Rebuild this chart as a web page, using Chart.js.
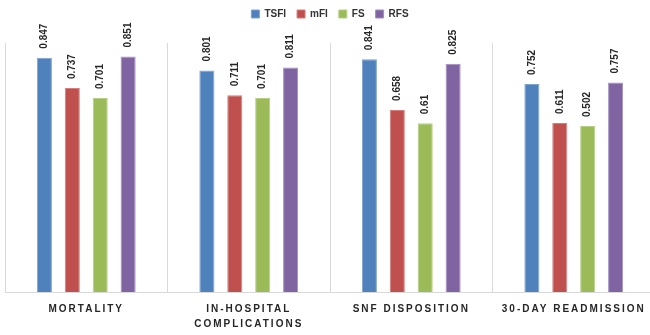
<!DOCTYPE html>
<html>
<head>
<meta charset="utf-8">
<script src="https://cdn.jsdelivr.net/npm/chart.js@4.4.1/dist/chart.umd.min.js"></script>
<style>
  html, body { margin: 0; padding: 0; background: #ffffff; overflow: hidden; }
  #wrap { width: 660px; height: 335px; position: relative; }
</style>
</head>
<body>
<div id="wrap"><canvas id="c" width="660" height="335"></canvas></div>
<script>
// ---- data ----
const categories = ['MORTALITY', ['IN-HOSPITAL', 'COMPLICATIONS'], 'SNF DISPOSITION', '30-DAY READMISSION'];
const seriesNames = ['TSFI', 'mFI', 'FS', 'RFS'];
const tsfi = [0.847, 0.801, 0.841, 0.752];
const mfi  = [0.737, 0.711, 0.658, 0.611];
// FS bar for 30-day readmission is drawn at about 0.60 in the reference, but printed as 0.502
const fs   = [0.701, 0.701, 0.61, 0.60];
const fsPrinted = ['0.701', '0.701', '0.61', '0.502'];
const rfs  = [0.851, 0.811, 0.825, 0.757];
const yMin = 0, yMax = 0.9;

const colors = ['#4F81BD', '#C0504D', '#9BBB59', '#8064A2'];
const edges  = ['#7FA2D0', '#D27F7D', '#B6CE88', '#A28DBF'];

const seriesValues = [tsfi, mfi, fs, rfs];
const printed = [tsfi.map(String), mfi.map(String), fsPrinted, rfs.map(String)];

const datasets = seriesNames.map((n, i) => ({
  label: n,
  data: seriesValues[i],
  printed: printed[i],
  backgroundColor: colors[i],
  borderColor: edges[i],
  borderWidth: 1,
  categoryPercentage: 0.687,
  barPercentage: 0.54
}));

const valueLabels = {
  id: 'valueLabels',
  afterDatasetsDraw(chart) {
    const ctx = chart.ctx;
    chart.data.datasets.forEach((ds, di) => {
      const meta = chart.getDatasetMeta(di);
      meta.data.forEach((bar, i) => {
        ctx.save();
        ctx.translate(bar.x, bar.y - 9);
        ctx.rotate(-Math.PI / 2);
        ctx.font = 'bold 10px "Liberation Sans", Arial, sans-serif';
        ctx.fillStyle = '#262626';
        ctx.textAlign = 'left';
        ctx.textBaseline = 'middle';
        ctx.fillText(ds.printed[i], 0, 0);
        ctx.restore();
      });
    });
  }
};

const spacedTicks = {
  id: 'spacedTicks',
  afterLayout(chart) {
    const s = chart.scales.x;
    if (s && !s._spaced) {
      const orig = s.drawLabels.bind(s);
      s.drawLabels = function (ca) {
        this.ctx.save();
        this.ctx.letterSpacing = '2px';
        orig(ca);
        this.ctx.restore();
      };
      s._spaced = true;
    }
  }
};

const legendHeight = {
  id: 'legendHeight',
  beforeInit(chart) {
    const lg = chart.legend;
    if (!lg) return;
    const origFit = lg.fit;
    lg.fit = function () {
      origFit.call(this);
      this.height = 45;
    };
  }
};

new Chart(document.getElementById('c'), {
  type: 'bar',
  data: { labels: categories, datasets },
  options: {
    responsive: false,
    animation: false,
    layout: { padding: { left: 5, right: 5, top: -2, bottom: 3 } },
    plugins: {
      legend: {
        position: 'top',
        labels: {
          boxWidth: 8,
          boxHeight: 8,
          padding: 11,
          color: '#333333',
          font: { family: '"Liberation Sans", Arial, sans-serif', size: 10, weight: 'bold' }
        }
      },
      tooltip: { enabled: false },
      title: { display: false }
    },
    scales: {
      x: {
        afterFit(scale) { scale.height = 40; },
        grid: { display: true, color: '#D9D9D9', lineWidth: 1, drawTicks: false, offset: true },
        border: { display: true, color: '#D9D9D9' },
        ticks: {
          color: '#262626',
          padding: 10,
          maxRotation: 0,
          autoSkip: false,
          font: { family: '"Liberation Sans", Arial, sans-serif', size: 10, weight: 'bold', lineHeight: 1.5 }
        }
      },
      y: {
        display: false,
        min: yMin,
        max: yMax
      }
    }
  },
  plugins: [legendHeight, valueLabels, spacedTicks]
});
</script>
</body>
</html>
